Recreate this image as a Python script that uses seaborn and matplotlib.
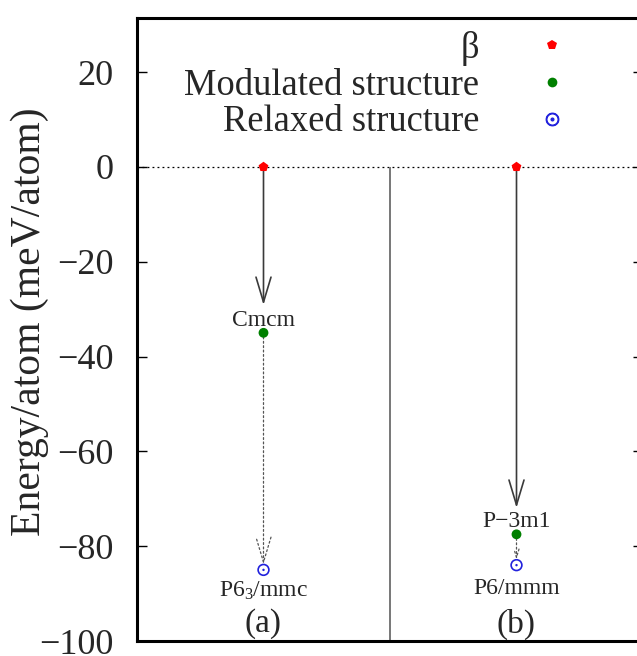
import matplotlib
matplotlib.use("Agg")
import matplotlib.pyplot as plt
from matplotlib.lines import Line2D
import seaborn as sns
import pandas as pd

# ---- data ----
panels = ["(a)", "(b)"]
panel_x = [0.5, 1.5]
beta_energy = [0.0, 0.0]
modulated_energy = [-35.0, -77.5]
relaxed_energy = [-85.0, -84.0]
modulated_labels = ["Cmcm", "P\u22123m1"]
relaxed_labels = ["P6$_3$/mmc", "P6/mmm"]
yticks = [-100, -80, -60, -40, -20, 0, 20]

sns.set_theme(style="ticks")
plt.rcParams["font.family"] = ["Liberation Serif", "DejaVu Serif"]
plt.rcParams["mathtext.fontset"] = "custom"
plt.rcParams["mathtext.rm"] = "Liberation Serif"
plt.rcParams["mathtext.it"] = "Liberation Serif:italic"
plt.rcParams["axes.unicode_minus"] = True

fig = plt.figure(figsize=(6.37, 6.56), dpi=100)
ax = fig.add_axes([137 / 637, 15 / 656, 506 / 637, 623 / 656])

df_beta = pd.DataFrame({"x": panel_x, "E": beta_energy})
df_mod = pd.DataFrame({"x": panel_x, "E": modulated_energy})
df_rel = pd.DataFrame({"x": panel_x, "E": relaxed_energy})

# reference lines
ax.axhline(0, color="black", lw=0.9, ls=(0, (1.5, 2.5)), zorder=1)
ax.vlines(1.0, -100, 0, color="#777777", lw=1.4, zorder=1)

# arrows
solid_shrink = [20, 19]
for i in range(2):
    ax.annotate("", xy=(panel_x[i], modulated_energy[i]),
                xytext=(panel_x[i], beta_energy[i]),
                arrowprops=dict(arrowstyle="->,head_length=1.0,head_width=0.3",
                                mutation_scale=18, color="#3a3a3a", lw=1.2,
                                shrinkA=0, shrinkB=solid_shrink[i]),
                zorder=2)
    ax.annotate("", xy=(panel_x[i], relaxed_energy[i]),
                xytext=(panel_x[i], modulated_energy[i]),
                arrowprops=dict(arrowstyle="->,head_length=1.0,head_width=0.3",
                                mutation_scale=18 if i == 0 else 6,
                                color="#555555", lw=0.9, ls=(0, (1.5, 2.0)),
                                shrinkA=3, shrinkB=4),
                zorder=2)

# points
sns.scatterplot(data=df_beta, x="x", y="E", ax=ax, marker="p", color="#ff0000",
                s=55, edgecolor="none", zorder=5, legend=False)
sns.scatterplot(data=df_mod, x="x", y="E", ax=ax, marker="o", color="#008000",
                s=50, edgecolor="none", zorder=5, legend=False)
sns.scatterplot(data=df_rel, x="x", y="E", ax=ax, marker="o", facecolor="none",
                edgecolor="#2222dd", linewidth=1.2, s=60, zorder=5, legend=False)
sns.scatterplot(data=df_rel, x="x", y="E", ax=ax, marker="o", color="#2222dd",
                s=3, edgecolor="none", zorder=6, legend=False)

# labels
mod_off = [9.0, 9.5]
rel_off = [-15.0, -17.0]
for i in range(2):
    ax.annotate(modulated_labels[i], xy=(panel_x[i], modulated_energy[i]),
                xytext=(0, mod_off[i]), textcoords="offset points",
                ha="center", va="center", fontsize=17)
    ax.annotate(relaxed_labels[i], xy=(panel_x[i], relaxed_energy[i]),
                xytext=(0, rel_off[i]), textcoords="offset points",
                ha="center", va="center", fontsize=17)
    ax.text(panel_x[i], -96.4, panels[i], ha="center", va="center", fontsize=24)

# legend
handles = [
    Line2D([], [], ls="none", marker="p", color="#ff0000", markersize=7, markeredgewidth=0),
    Line2D([], [], ls="none", marker="o", color="#008000", markersize=7, markeredgewidth=0),
    Line2D([], [], ls="none", marker=r"$\odot$", color="#2222dd", markersize=9),
]
ax.legend(handles, ["\u03b2", "Modulated structure", "Relaxed structure"],
          loc="upper right", bbox_to_anchor=(0.893, 0.979), frameon=False,
          markerfirst=False, fontsize=26.3, borderpad=0, borderaxespad=0,
          handletextpad=1.0, labelspacing=0.06, handlelength=2.0)

ax.set_xlim(0, 2)
ax.set_ylim(-100, 31.4)
ax.set_xticks([])
ax.set_yticks(yticks)
ax.set_xlabel("")
ax.set_ylabel("Energy/atom (meV/atom)", fontsize=30)
ax.yaxis.set_label_coords(-0.174, 0.512)
ax.tick_params(axis="y", direction="in", length=7, width=1.0, pad=17,
               labelsize=26, left=True, right=True, color="black")
for sp in ax.spines.values():
    sp.set_visible(True)
    sp.set_linewidth(2.2)
    sp.set_color("black")

fig.savefig("out.png", dpi=100)
